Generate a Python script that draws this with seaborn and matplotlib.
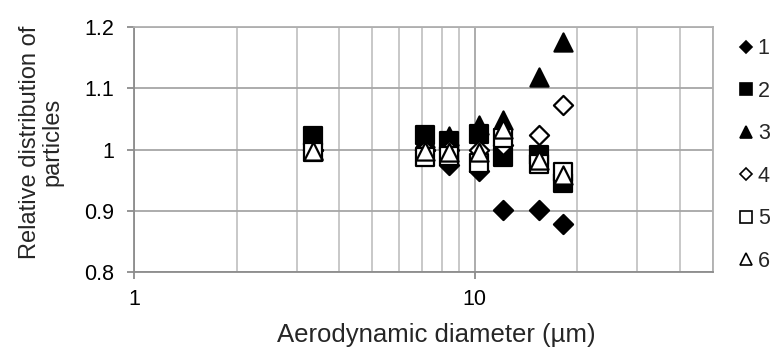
import matplotlib
matplotlib.use("Agg")
import matplotlib.pyplot as plt
from matplotlib.lines import Line2D
from matplotlib.ticker import FixedLocator, FuncFormatter, NullFormatter
import seaborn as sns
import pandas as pd

# Aerodynamic diameter (µm) of each stage
diameter = [3.35, 7.13, 8.39, 10.28, 12.09, 15.4, 18.1]

# Relative distribution of particles, one list per run
run1 = [1.000, 1.000, 0.975, 0.965, 0.902, 0.902, 0.879]
run2 = [1.022, 1.023, 1.014, 1.025, 0.987, 0.991, 0.945]
run3 = [1.000, 1.018, 1.022, 1.040, 1.048, 1.118, 1.176]
run4 = [1.000, 1.000, 1.000, 1.000, 1.008, 1.024, 1.072]
run5 = [0.996, 0.987, 0.990, 0.978, 1.019, 0.977, 0.963]
run6 = [0.998, 0.997, 0.996, 0.996, 1.033, 0.983, 0.958]

run_labels = ["1", "2", "3", "4", "5", "6"]
runs = [run1, run2, run3, run4, run5, run6]

frames = []
for lab, vals in zip(run_labels, runs):
    frames.append(pd.DataFrame({"diameter": diameter, "value": vals, "run": lab}))
df = pd.concat(frames, ignore_index=True)

sns.set_theme(style="white")
plt.rcParams["font.family"] = ["Liberation Sans", "DejaVu Sans"]

# marker, face colour, edge colour, size (pt^2)
styles = {
    "1": ("D", "black", "black", 95),
    "2": ("s", "black", "black", 150),
    "3": ("^", "black", "black", 170),
    "4": ("D", "white", "black", 95),
    "5": ("s", "white", "black", 150),
    "6": ("^", "white", "black", 170),
}

fig = plt.figure(figsize=(7.74, 3.47), dpi=100)
ax = fig.add_axes([134 / 774, 1 - 272 / 347, (713 - 134) / 774, (272 - 27) / 347])

for i, lab in enumerate(run_labels):
    m, fc, ec, s = styles[lab]
    sub = df[df["run"] == lab]
    sns.scatterplot(data=sub, x="diameter", y="value", marker=m, s=s,
                    color=fc, edgecolor=ec, linewidth=1.6, ax=ax,
                    legend=False, zorder=3 + i)

ax.set_xscale("log")
ax.set_xlim(1, 50)
ax.set_ylim(0.8, 1.2)

ax.xaxis.set_major_locator(FixedLocator([1, 10]))
ax.xaxis.set_major_formatter(FuncFormatter(lambda v, p: f"{v:g}"))
ax.xaxis.set_minor_locator(FixedLocator([2, 3, 4, 5, 6, 7, 8, 9, 20, 30, 40, 50]))
ax.xaxis.set_minor_formatter(NullFormatter())
ax.set_yticks([0.8, 0.9, 1.0, 1.1, 1.2])
ax.yaxis.set_major_formatter(FuncFormatter(lambda v, p: f"{v:g}"))

ax.grid(True, which="major", axis="both", color="#a6a6a6", linewidth=1.3, zorder=0)
ax.grid(True, which="minor", axis="x", color="#c4c4c4", linewidth=1.3, zorder=0)
ax.set_axisbelow(True)

for side in ["left", "bottom"]:
    ax.spines[side].set_color("#8c8c8c")
    ax.spines[side].set_linewidth(1.3)
for side in ["top", "right"]:
    ax.spines[side].set_color("#b0b0b0")
    ax.spines[side].set_linewidth(1.3)

ax.tick_params(axis="both", which="major", direction="out", length=5, width=1.3,
               colors="#8c8c8c", labelcolor="black", labelsize=15.5,
               bottom=True, left=True)
ax.tick_params(axis="x", which="minor", bottom=False)
ax.tick_params(axis="x", which="major", pad=7)
ax.tick_params(axis="y", which="major", pad=9)

ax.set_xlabel("Aerodynamic diameter (µm)", fontsize=18.5)
ax.set_ylabel("Relative distribution of\nparticles", fontsize=17, linespacing=1.0)
ax.xaxis.set_label_coords(0.522, -0.208)
ax.yaxis.set_label_coords(-0.122, 0.53)

handles = []
for lab in run_labels:
    m, fc, ec, s = styles[lab]
    ms = {"D": 6, "s": 9, "^": 8.5}[m]
    handles.append(Line2D([], [], linestyle="none", marker=m, markersize=ms,
                          markerfacecolor=fc, markeredgecolor=ec, markeredgewidth=1.2))
fig.legend(handles, run_labels, loc="upper left", bbox_to_anchor=(0.943, 0.915),
           frameon=False, fontsize=15.5, handlelength=0.7, handletextpad=0.2,
           labelspacing=1.0, borderaxespad=0)

fig.savefig("out.png", dpi=100)
